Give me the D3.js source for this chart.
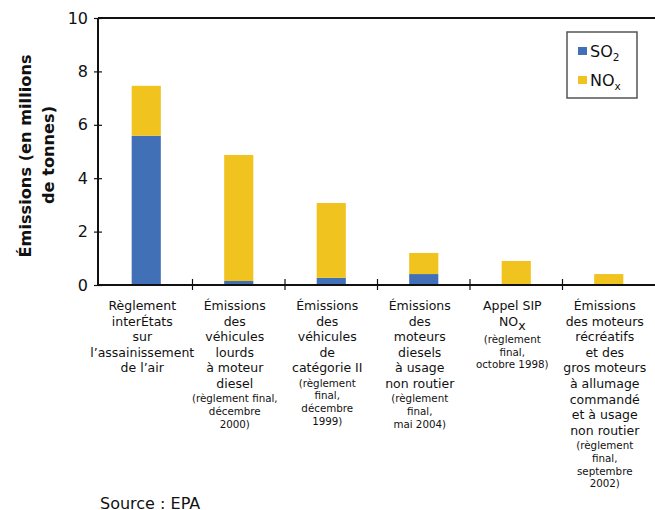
<!DOCTYPE html>
<html>
<head>
<meta charset="utf-8">
<script src="https://cdn.jsdelivr.net/npm/d3@7"></script>
<style>
  html, body { margin: 0; padding: 0; background: #fff; }
  svg { display: block; font-family: "DejaVu Sans", Verdana, sans-serif; }
</style>
</head>
<body>
<svg id="chart" width="655" height="510"></svg>
<script>
// Emission reductions by rule (millions of tonnes)
const categories = ["c1", "c2", "c3", "c4", "c5", "c6"];
const so2Values = [5.59, 0.15, 0.27, 0.41, 0, 0];
const noxValues = [1.87, 4.72, 2.80, 0.79, 0.90, 0.41];
const yTicks = [0, 2, 4, 6, 8, 10];

// Category labels: main lines, then the smaller rule-date lines
const labelMain = [
  ["Règlement", "interÉtats", "sur", "l’assainissement", "de l’air"],
  ["Émissions", "des", "véhicules", "lourds", "à moteur", "diesel"],
  ["Émissions", "des", "véhicules", "de", "catégorie II"],
  ["Émissions", "des", "moteurs", "diesels", "à usage", "non routier"],
  ["Appel SIP", "NO|x"],
  ["Émissions", "des moteurs", "récréatifs", "et des", "gros moteurs", "à allumage", "commandé", "et à usage", "non routier"]
];
const labelSmall = [
  [],
  ["(règlement final,", "décembre", "2000)"],
  ["(règlement", "final,", "décembre", "1999)"],
  ["(règlement", "final,", "mai 2004)"],
  ["(règlement", "final,", "octobre 1998)"],
  ["(règlement", "final,", "septembre", "2002)"]
];
const seriesNames = ["SO|2", "NO|x"];
const seriesKeys = ["so2", "nox"];
const colors = ["#4170b6", "#f1c31f"];

const svg = d3.select("#chart");
const plot = { left: 98, right: 655, top: 18, bottom: 285 };

const x = d3.scaleBand().domain(categories).range([100, 655]).padding(0);
const y = d3.scaleLinear().domain([0, 10]).range([plot.bottom, plot.top]);
const color = d3.scaleOrdinal().domain(seriesKeys).range(colors);

const rows = categories.map((c, i) => ({ cat: c, so2: so2Values[i], nox: noxValues[i] }));
const stacked = d3.stack().keys(seriesKeys)(rows);

// Bars
const barW = x.bandwidth() * 0.315;
svg.append("g").selectAll("g")
  .data(stacked)
  .join("g")
  .attr("fill", d => color(d.key))
  .selectAll("rect")
  .data(d => d)
  .join("rect")
  .attr("x", d => x(d.data.cat) + x.bandwidth() / 2 - barW / 2)
  .attr("width", barW)
  .attr("y", d => y(d[1]))
  .attr("height", d => y(d[0]) - y(d[1]));

// Frame: top border and baseline
const frame = svg.append("g").attr("stroke", "#111").attr("stroke-width", 2).attr("fill", "none");
frame.append("line").attr("x1", plot.left).attr("x2", plot.right).attr("y1", plot.top).attr("y2", plot.top);
frame.append("line").attr("x1", plot.left).attr("x2", plot.right).attr("y1", plot.bottom).attr("y2", plot.bottom);

// Y axis
const yAxis = svg.append("g")
  .attr("transform", `translate(${plot.left},0)`)
  .call(d3.axisLeft(y).tickValues(yTicks).tickSize(4).tickPadding(6).tickFormat(d3.format("d")));
yAxis.select(".domain").attr("stroke", "#111").attr("stroke-width", 2)
  .attr("d", `M0,${plot.top}V${plot.bottom + 1}`);
yAxis.selectAll(".tick line").attr("x1", 4).attr("x2", -4).attr("stroke", "#111").attr("stroke-width", 1.2);
yAxis.selectAll(".tick text")
  .attr("x", -10)
  .attr("font-family", "DejaVu Sans, Verdana, sans-serif")
  .attr("font-size", 16).attr("fill", "#111");

// X tick marks between categories
svg.append("g").selectAll("line")
  .data(categories.slice(1))
  .join("line")
  .attr("x1", d => x(d)).attr("x2", d => x(d))
  .attr("y1", plot.bottom - 6).attr("y2", plot.bottom + 5)
  .attr("stroke", "#111").attr("stroke-width", 1.2);

// Helper for text with a subscript marked by "|"
function addSubText(sel, str, subSize, dy) {
  const parts = str.split("|");
  sel.append("tspan").text(parts[0]);
  if (parts.length > 1) {
    sel.append("tspan").attr("font-size", subSize).attr("dy", dy).text(parts[1]);
  }
}

// Category labels
const labels = svg.append("g").attr("fill", "#111").attr("text-anchor", "middle");
categories.forEach((c, i) => {
  const cx = x(c) + x.bandwidth() / 2 - 4;
  let yy = 310;
  labelMain[i].forEach(line => {
    const t = labels.append("text").attr("x", cx).attr("y", yy).attr("font-size", 12.5);
    if (line.includes("|")) {
      addSubText(t, line, 12.5, 4);
      yy += 3;
    } else {
      t.text(line);
    }
    yy += 15.6;
  });
  yy -= 1.5;
  labelSmall[i].forEach(line => {
    labels.append("text").attr("x", cx).attr("y", yy).attr("font-size", 10.3).text(line);
    yy += 12.8;
  });
});

// Y axis title
svg.append("text")
  .attr("transform", "translate(31,156) rotate(-90)")
  .attr("text-anchor", "middle")
  .attr("font-weight", "bold").attr("font-size", 16.2).attr("fill", "#111")
  .text("Émissions (en millions");
svg.append("text")
  .attr("transform", "translate(54,155) rotate(-90)")
  .attr("text-anchor", "middle")
  .attr("font-weight", "bold").attr("font-size", 16.2).attr("fill", "#111")
  .text("de tonnes)");

// Legend
const legend = svg.append("g");
legend.append("rect")
  .attr("x", 567).attr("y", 32).attr("width", 70).attr("height", 66)
  .attr("fill", "#fff").attr("stroke", "#555").attr("stroke-width", 1.5);
seriesKeys.forEach((k, i) => {
  const ly = 47 + i * 29;
  legend.append("rect").attr("x", 578).attr("y", ly).attr("width", 9).attr("height", 8).attr("fill", color(k));
  const t = legend.append("text").attr("x", 590).attr("y", ly + 10).attr("font-size", 16).attr("fill", "#111");
  addSubText(t, seriesNames[i], 10.5, 4);
});

// Source note
svg.append("text")
  .attr("x", 100).attr("y", 509)
  .attr("font-size", 16).attr("fill", "#111")
  .text("Source : EPA");
</script>
</body>
</html>
